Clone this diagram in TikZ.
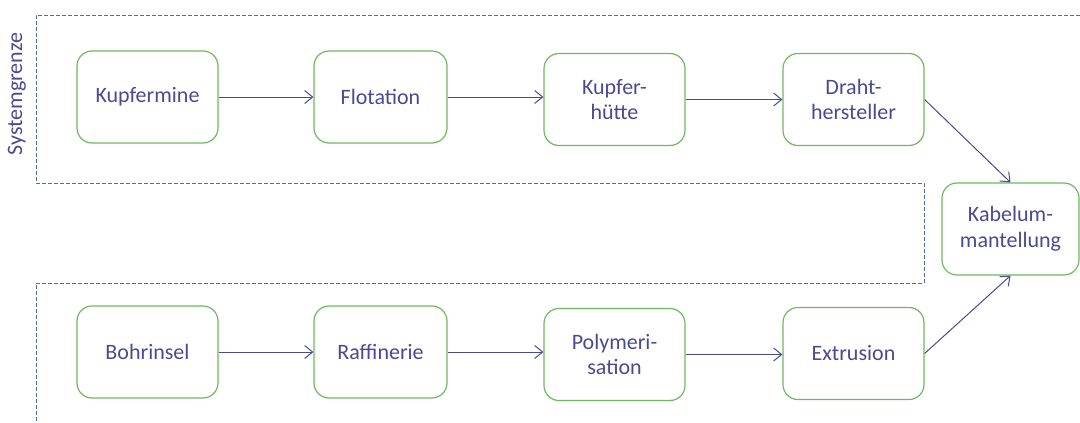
\documentclass[tikz,border=0pt]{standalone}
\usepackage{fontspec}
\setmainfont{Carlito}
\usetikzlibrary{arrows.meta}
\definecolor{boxgreen}{RGB}{112,184,96}
\definecolor{txtblue}{RGB}{74,74,145}
\definecolor{bordergrey}{RGB}{84,108,152}
\begin{document}
\begin{tikzpicture}[x=1pt,y=-1pt,
  procbox/.style={draw=boxgreen,line width=1.2pt,rounded corners=15pt,
    minimum width=141pt,minimum height=92pt,inner sep=0pt,align=center,
    text=txtblue,font=\fontsize{22}{25.5}\selectfont},
  flow/.style={draw=txtblue,line width=1pt,-{Straight Barb[length=8pt,width=13pt]}},
  sysborder/.style={draw=bordergrey,line width=0.9pt,dash pattern=on 4pt off 2pt}]
\useasboundingbox (0,0) rectangle (1080,423);
% system boundary
\draw[sysborder] (1080,15) -- (36,15) -- (36,183) -- (924,183) -- (924,283) -- (36,283) -- (36,423);
\node[rotate=90,text=txtblue,font=\fontsize{22}{25.5}\selectfont] (sg) at (17,94) {Systemgrenze};
% top row
\node[procbox] (kmine) at (147.5,97) {Kupfermine};
\node[procbox,minimum width=133pt] (flot) at (380.5,97) {Flotation};
\node[procbox] (khuette) at (614.5,99.5) {Kupfer-\\hütte};
\node[procbox] (draht) at (853.5,99.5) {Draht-\\hersteller};
% cable
\node[procbox,minimum width=137pt] (kabel) at (1010.5,229) {Kabelum-\\mantellung};
% bottom row
\node[procbox] (bohr) at (147.5,352) {Bohrinsel};
\node[procbox,minimum width=133pt] (raff) at (380.5,352) {Raffinerie};
\node[procbox] (poly) at (614.5,354.5) {Polymeri-\\sation};
\node[procbox] (extr) at (853.5,353.5) {Extrusion};
% connectors
\draw[flow] (kmine.east) -- (kmine.east -| flot.west);
\draw[flow] (flot.east) -- (flot.east -| khuette.west);
\draw[flow] (khuette.east) -- (khuette.east -| draht.west);
\draw[flow] (bohr.east) -- (bohr.east -| raff.west);
\draw[flow] (raff.east) -- (raff.east -| poly.west);
\draw[flow] (poly.east) -- (poly.east -| extr.west);
\draw[flow] (draht.east) -- (kabel.north);
\draw[flow] (extr.east) -- (kabel.south);
\end{tikzpicture}
\end{document}
